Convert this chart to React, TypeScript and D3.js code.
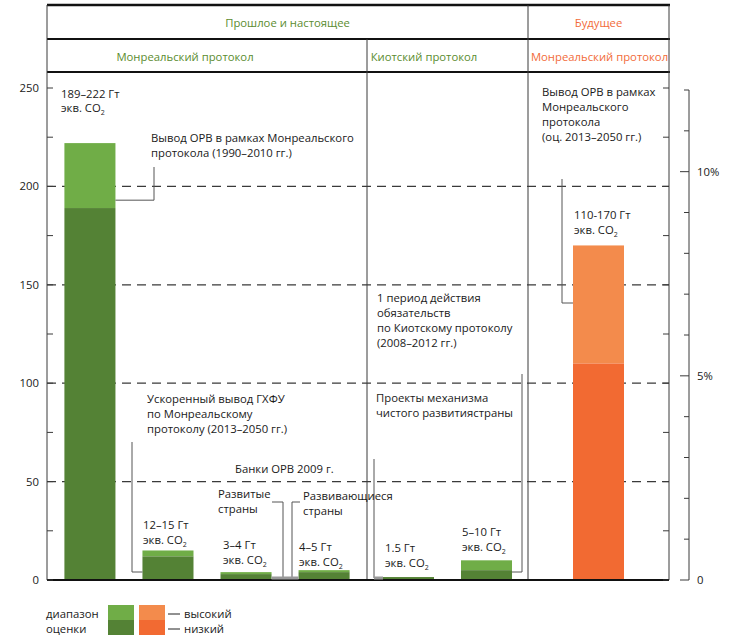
import React from "react";
import * as d3 from "d3";

// ---------- data ----------
const categories = ["mp-past", "hcfc", "developed", "developing", "kyoto", "cdm", "mp-future"];
const sectionOf = ["mp", "mp", "mp", "mp", "kp", "kp", "future"];
const lowValues = [189, 12, 3, 4, 1.5, 5, 110];
const highValues = [222, 15, 4, 5, 1.5, 10, 170];
const leftTicks = [0, 50, 100, 150, 200, 250];
const rightTicks = [0, 5, 10];
const headerTop = ["Прошлое и настоящее", "Будущее"];
const headerSub = ["Монреальский протокол", "Киотский протокол", "Монреальский протокол"];

const W = 730;
const H = 641;
const left = 47;
const right = 669;
const base = 580;
const divKP = 367;
const divFuture = 528;

const FONT = "'Open Sans', 'Noto Sans', sans-serif";
const GREEN_HI = "#70ad47";
const GREEN_LO = "#548235";
const OR_HI = "#f38b4c";
const OR_LO = "#f26a32";
const GREEN_TXT = "#5b8c2f";
const OR_TXT = "#f26b3a";
const LINE = "#3a3a3a";
const LEADER = "#555";

const y = d3.scaleLinear().domain([0, 250]).range([base, 88]);
const yPct = d3.scaleLinear().domain([0, 12]).range([base, 90]);

const mkBand = (ids: string[], r: [number, number], po: number) =>
  d3.scaleBand<string>().domain(ids).range(r).paddingInner(0.346).paddingOuter(po);

const bandMP = mkBand(categories.filter((_, i) => sectionOf[i] === "mp"), [left, divKP], 0.223);
const bandKP = mkBand(categories.filter((_, i) => sectionOf[i] === "kp"), [divKP, divFuture], 0.205);
const bandF = mkBand(categories.filter((_, i) => sectionOf[i] === "future"), [divFuture, right], 0.577);
const bandFor = (i: number) => (sectionOf[i] === "mp" ? bandMP : sectionOf[i] === "kp" ? bandKP : bandF);
const bx = (i: number) => bandFor(i)(categories[i]) as number;
const bw = (i: number) => bandFor(i).bandwidth();

const T = (props: any) => (
  <text fontFamily={FONT} fontSize={11.3} fill="#1a1a1a" {...props} />
);

const Lines = ({ x, y0, lines, dy = 15 }: { x: number; y0: number; lines: any[]; dy?: number }) => (
  <>
    {lines.map((l, k) => (
      <T key={k} x={x} y={y0 + k * dy}>
        {l}
      </T>
    ))}
  </>
);

const CO2 = () => (
  <>
    экв. CO<tspan fontSize={7} dy={2.5}>2</tspan>
  </>
);

export default function App() {
  const leftMinor = d3.range(0, 251, 25);
  const rightMinor = d3.range(0, 13, 1);
  return (
    <svg width={W} height={H} style={{ display: "block", position: "absolute", left: 0, top: 0 }}>
      <rect width={W} height={H} fill="#fff" />

      {/* dashed grid */}
      {leftTicks
        .filter((t) => t > 0 && t < 250)
        .map((t) => (
          <line key={t} x1={left} x2={right} y1={y(t)} y2={y(t)} stroke={LINE} strokeWidth={1.2} strokeDasharray="9,6" />
        ))}

      {/* bars */}
      {categories.map((c, i) => {
        const fut = sectionOf[i] === "future";
        return (
          <g key={c}>
            {highValues[i] > lowValues[i] && (
              <rect x={bx(i)} width={bw(i)} y={y(highValues[i])} height={y(lowValues[i]) - y(highValues[i])} fill={fut ? OR_HI : GREEN_HI} />
            )}
            <rect x={bx(i)} width={bw(i)} y={y(lowValues[i])} height={base - y(lowValues[i])} fill={fut ? OR_LO : GREEN_LO} />
          </g>
        );
      })}

      {/* header frame */}
      <line x1={left} x2={right + 1} y1={5} y2={5} stroke="#111" strokeWidth={2.5} />
      <line x1={left} x2={right + 1} y1={39} y2={39} stroke="#111" strokeWidth={2} />
      <line x1={left} x2={right + 1} y1={72} y2={72} stroke="#111" strokeWidth={2} />
      <line x1={left} x2={left} y1={5} y2={base} stroke={LINE} strokeWidth={1} />
      <line x1={right} x2={right} y1={5} y2={base} stroke={LINE} strokeWidth={1} />
      <line x1={divFuture} x2={divFuture} y1={5} y2={base} stroke={LINE} strokeWidth={1} />
      <line x1={divKP} x2={divKP} y1={39} y2={base} stroke={LINE} strokeWidth={1} />

      <T x={(left + divFuture) / 2} y={27} textAnchor="middle" fill={GREEN_TXT}>{headerTop[0]}</T>
      <T x={(divFuture + right) / 2} y={27} textAnchor="middle" fill={OR_TXT}>{headerTop[1]}</T>
      <T x={185} y={61} textAnchor="middle" fill={GREEN_TXT}>{headerSub[0]}</T>
      <T x={424} y={61} textAnchor="middle" fill={GREEN_TXT}>{headerSub[1]}</T>
      <T x={(divFuture + right) / 2 + 1} y={61} textAnchor="middle" fill={OR_TXT}>{headerSub[2]}</T>

      {/* baseline */}
      <line x1={left} x2={right} y1={base} y2={base} stroke="#111" strokeWidth={2} />

      {/* left axis ticks */}
      {leftMinor.map((t) => (
        <g key={t}>
          <line x1={left} x2={left + 6} y1={y(t)} y2={y(t)} stroke={LINE} />
          <line x1={right - 6} x2={right} y1={y(t)} y2={y(t)} stroke={LINE} />
        </g>
      ))}
      {leftTicks.map((t) => (
        <T key={t} x={39} y={y(t)} dy="0.35em" textAnchor="end">{t}</T>
      ))}

      {/* right axis */}
      <line x1={689} x2={689} y1={yPct(12)} y2={yPct(0)} stroke={LINE} />
      {rightMinor.map((t) => (
        <line key={t} x1={rightTicks.includes(t) ? 680 : 684} x2={689} y1={yPct(t)} y2={yPct(t)} stroke={LINE} />
      ))}
      {rightTicks.map((t) => (
        <T key={t} x={697} y={yPct(t)} dy="0.35em">{t === 0 ? "0" : `${t}%`}</T>
      ))}

      {/* leaders */}
      <polyline points={`${bx(0) + bw(0)},${y(193)} 154,${y(193)} 154,167`} fill="none" stroke={LEADER} />
      <polyline points={`132,442 132,572 ${bx(1)},572`} fill="none" stroke={LEADER} />
      <polyline points={`272,502 283,502 283,578`} fill="none" stroke={LEADER} />
      <polyline points={`300,502 292,502 292,578`} fill="none" stroke={LEADER} />
      <line x1={bx(2) + bw(2)} x2={bx(3)} y1={578} y2={578} stroke="#999" strokeWidth={3} />
      <polyline points={`374,459 374,578`} fill="none" stroke={LEADER} />
      <line x1={374} x2={bx(4)} y1={578} y2={578} stroke="#999" strokeWidth={3} />
      <polyline points={`${bx(5) + bw(5)},572 522,572 522,374`} fill="none" stroke={LEADER} />
      <polyline points={`562,179 562,303 ${bx(6)},303`} fill="none" stroke={LEADER} />

      {/* annotations */}
      <Lines x={61} y0={98} lines={["189–222 Гт", <CO2 />]} dy={14} />
      <Lines x={151} y0={142} lines={["Вывод ОРВ в рамках Монреальского", "протокола (1990–2010 гг.)"]} />
      <Lines x={147} y0={403} lines={["Ускоренный вывод ГХФУ", "по Монреальскому", "протоколу (2013–2050 гг.)"]} />
      <T x={235} y={473}>Банки ОРВ 2009  г.</T>
      <Lines x={143} y0={529} lines={["12–15 Гт", <CO2 />]} dy={15} />
      <Lines x={218} y0={498} lines={["Развитые", "страны"]} />
      <Lines x={223} y0={549} lines={["3–4 Гт", <CO2 />]} dy={15} />
      <Lines x={303} y0={500} lines={["Развивающиеся", "страны"]} />
      <Lines x={299} y0={551} lines={["4–5 Гт", <CO2 />]} dy={15} />
      <Lines x={377} y0={302} lines={["1 период действия", "обязательств", "по Киотскому протоколу", "(2008–2012 гг.)"]} />
      <Lines x={376} y0={402} lines={["Проекты механизма", "чистого развитиястраны"]} />
      <Lines x={385} y0={552} lines={["1.5 Гт", <CO2 />]} dy={15} />
      <Lines x={462} y0={536} lines={["5–10 Гт", <CO2 />]} dy={15} />
      <Lines x={542} y0={96} lines={["Вывод ОРВ в рамках", "Монреальского", "протокола", "(оц. 2013–2050 гг.)"]} />
      <Lines x={574} y0={219} lines={["110-170 Гт", <CO2 />]} dy={15} />

      {/* legend */}
      <Lines x={46} y0={618} lines={["диапазон", "оценки"]} />
      <rect x={108} y={605} width={26} height={15} fill={GREEN_HI} />
      <rect x={108} y={620} width={26} height={15} fill={GREEN_LO} />
      <rect x={139} y={605} width={26} height={15} fill={OR_HI} />
      <rect x={139} y={620} width={26} height={15} fill={OR_LO} />
      <line x1={168} x2={180} y1={614} y2={614} stroke="#222" />
      <line x1={168} x2={180} y1={629} y2={629} stroke="#222" />
      <T x={184} y={618}>высокий</T>
      <T x={184} y={633}>низкий</T>
    </svg>
  );
}
